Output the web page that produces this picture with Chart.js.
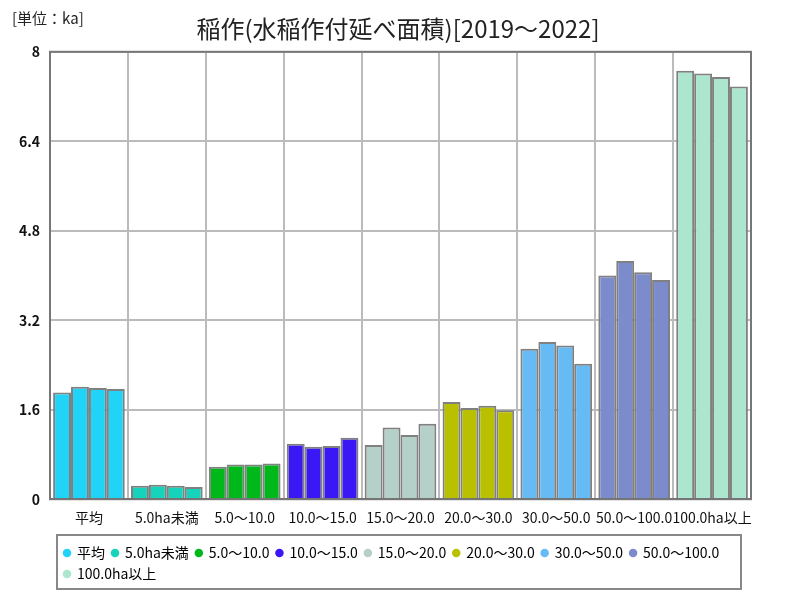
<!DOCTYPE html>
<html lang="ja">
<head>
    <meta charset="UTF-8">
    <title>稲作(水稲作付延べ面積)</title>
    <script src="https://cdn.jsdelivr.net/npm/chart.js@4.4.1/dist/chart.umd.min.js"></script>
    <style>
        html, body {
            margin: 0;
            padding: 0;
            background: #fff;
        }
        #myChart {
            display: block;
        }
    </style>
</head>
<body>
<canvas id="myChart" width="800" height="600"></canvas>
<script>
// 区分（経営耕地面積規模）
const categories = ['平均', '5.0ha未満', '5.0～10.0', '10.0～15.0', '15.0～20.0', '20.0～30.0', '30.0～50.0', '50.0～100.0', '100.0ha以上'];
const years = ['2019', '2020', '2021', '2022'];

// 単位: ka
const values2019 = [1.91, 0.24, 0.58, 0.99, 0.97, 1.74, 2.69, 4.00, 7.66];
const values2020 = [2.01, 0.26, 0.62, 0.94, 1.28, 1.63, 2.81, 4.26, 7.61];
const values2021 = [1.99, 0.24, 0.62, 0.95, 1.15, 1.67, 2.75, 4.06, 7.55];
const values2022 = [1.97, 0.22, 0.64, 1.10, 1.35, 1.59, 2.42, 3.92, 7.38];

const yTicks = [0, 1.6, 3.2, 4.8, 6.4, 8];

const colors = ['#22d3f8', '#16d4bc', '#00b81a', '#3a18f6', '#b4d0c8', '#b8c000', '#66bbf5', '#7b8bcc', '#ade6cf'];

const allValues = [values2019, values2020, values2021, values2022];

const FONT = '"Noto Sans CJK JP"';

// 単位ラベルと枠線
const extras = {
    id: 'extras',
    afterLayout(chart){
        // タイトルはキャンバス中央に
        chart.titleBlock.left = 0;
        chart.titleBlock.right = 796;
        // 凡例を枠の中に収める
        const lg = chart.legend;
        lg.maxWidth = 700;
        lg.left = 57;
        lg.fit();
        lg.right = lg.left + lg.width;
        lg.top = 539;
        lg.bottom = lg.top + lg.height;
    },
    afterDraw(chart){
        const ctx = chart.ctx;
        const a = chart.chartArea;
        ctx.save();
        ctx.strokeStyle = '#777';
        ctx.lineWidth = 2;
        ctx.strokeRect(a.left, a.top, a.right - a.left, a.bottom - a.top);
        // 凡例の枠
        ctx.strokeStyle = '#888';
        ctx.strokeRect(57, 535, 684, 54);
        ctx.fillStyle = '#222';
        ctx.font = '15px "Noto Sans CJK JP"';
        ctx.textBaseline = 'middle';
        ctx.fillText('[単位：ka]', 12, 18);
        ctx.restore();
    }
};

const ctx = document.getElementById('myChart').getContext('2d');
new Chart(ctx, {
    type: 'bar',
    data: {
        labels: categories,
        datasets: years.map((y, i) => ({
            label: y,
            data: allValues[i],
            backgroundColor: colors,
            borderColor: '#808080',
            borderWidth: 2,
            categoryPercentage: 0.92,
            barPercentage: 1.0
        }))
    },
    options: {
        responsive: false,
        animation: false,
        layout: {
            padding: {top: 8, right: 49, bottom: 12, left: 8}
        },
        plugins: {
            title: {
                display: true,
                text: '稲作(水稲作付延べ面積)[2019～2022]',
                color: '#222',
                font: {family: FONT, size: 24, weight: 'normal'},
                padding: {top: 6, bottom: 9}
            },
            legend: {
                position: 'bottom',
                align: 'start',
                onClick: null,
                labels: {
                    color: '#222',
                    font: {family: FONT, size: 14},
                    usePointStyle: true,
                    pointStyle: 'circle',
                    boxWidth: 6,
                    boxHeight: 6,
                    padding: 7,
                    generateLabels(chart){
                        return categories.map((c, i) => ({
                            text: c,
                            fillStyle: colors[i],
                            strokeStyle: colors[i],
                            lineWidth: 0,
                            pointStyle: 'circle',
                            hidden: false,
                            index: i
                        }));
                    }
                }
            },
            tooltip: {enabled: false}
        },
        scales: {
            x: {
                grid: {color: '#bbb', lineWidth: 2, offset: true, drawTicks: false},
                border: {color: '#666', width: 2},
                ticks: {
                    color: '#111',
                    autoSkip: false,
                    maxRotation: 0,
                    minRotation: 0,
                    padding: 10,
                    font: {family: FONT, size: 14}
                }
            },
            y: {
                min: 0,
                max: 8,
                afterBuildTicks(scale){
                    scale.ticks = yTicks.map(v => ({value: v}));
                },
                afterFit(scale){
                    scale.width = 42;
                },
                grid: {color: '#bbb', lineWidth: 2, drawTicks: false},
                border: {color: '#666', width: 2},
                ticks: {
                    color: '#111',
                    padding: 10,
                    font: {family: FONT, size: 14, weight: 'bold'},
                    callback: v => String(Number(v.toFixed(1)))
                }
            }
        }
    },
    plugins: [extras]
});
</script>
</body>
</html>
